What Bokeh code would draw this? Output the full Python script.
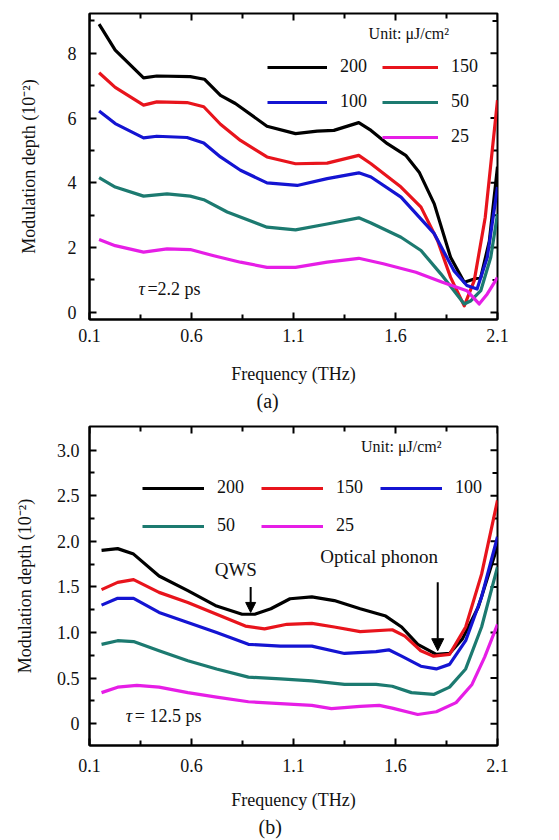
import math
from bokeh.plotting import figure
from bokeh.models import (Range1d, FixedTicker, Legend, LegendItem, Title,
                          Label, Arrow, NormalHead, NumeralTickFormatter)
from bokeh.layouts import column
from bokeh.embed import file_html
from bokeh.resources import INLINE

FONT = "Liberation Serif"

# ---------------- data: panel (a), tau = 2.2 ps ----------------
a_x200 = [0.147, 0.226, 0.365, 0.43, 0.594, 0.663, 0.742, 0.815, 0.97, 1.11, 1.216, 1.298, 1.42, 1.48, 1.56, 1.65, 1.716, 1.79, 1.87, 1.937, 1.986, 2.018, 2.06, 2.1]
a_y200 = [8.9, 8.1, 7.24, 7.3, 7.28, 7.2, 6.7, 6.45, 5.75, 5.52, 5.6, 5.62, 5.86, 5.62, 5.21, 4.85, 4.33, 3.35, 1.70, 0.93, 1.03, 1.08, 2.2, 4.5]
a_x150 = [0.147, 0.226, 0.365, 0.43, 0.578, 0.66, 0.742, 0.84, 0.97, 1.11, 1.265, 1.42, 1.48, 1.627, 1.725, 1.806, 1.87, 1.937, 1.986, 2.04, 2.1]
a_y150 = [7.4, 6.95, 6.4, 6.5, 6.48, 6.35, 5.81, 5.31, 4.8, 4.59, 4.61, 4.85, 4.59, 3.87, 3.25, 2.22, 1.08, 0.2, 0.98, 2.94, 6.55]
a_x100 = [0.147, 0.226, 0.365, 0.43, 0.578, 0.66, 0.742, 0.84, 0.97, 1.118, 1.265, 1.42, 1.48, 1.627, 1.79, 1.886, 1.95, 2.0, 2.05, 2.1]
a_y100 = [6.22, 5.83, 5.39, 5.44, 5.4, 5.23, 4.8, 4.39, 4.0, 3.92, 4.13, 4.31, 4.18, 3.56, 2.43, 1.29, 0.83, 0.72, 1.7, 3.87]
a_x50 = [0.147, 0.226, 0.365, 0.48, 0.594, 0.66, 0.775, 0.97, 1.11, 1.265, 1.42, 1.48, 1.627, 1.725, 1.822, 1.937, 1.97, 2.018, 2.067, 2.1]
a_y50 = [4.16, 3.87, 3.59, 3.66, 3.59, 3.48, 3.1, 2.63, 2.55, 2.73, 2.92, 2.76, 2.32, 1.91, 1.19, 0.26, 0.36, 0.67, 1.70, 3.04]
a_x25 = [0.147, 0.226, 0.365, 0.48, 0.594, 0.709, 0.84, 0.97, 1.11, 1.265, 1.42, 1.54, 1.70, 1.83, 1.95, 2.01, 2.05, 2.1]
a_y25 = [2.25, 2.06, 1.86, 1.96, 1.94, 1.75, 1.55, 1.39, 1.39, 1.55, 1.67, 1.50, 1.24, 0.93, 0.67, 0.26, 0.57, 1.08]

# ---------------- data: panel (b), tau = 12.5 ps ----------------
b_x200 = [0.159, 0.238, 0.316, 0.441, 0.582, 0.723, 0.848, 0.91, 0.989, 1.083, 1.19, 1.30, 1.427, 1.552, 1.63, 1.709, 1.80, 1.865, 1.928, 2.006, 2.1]
b_y200 = [1.90, 1.92, 1.86, 1.62, 1.46, 1.29, 1.20, 1.20, 1.26, 1.37, 1.39, 1.35, 1.26, 1.18, 1.06, 0.87, 0.76, 0.77, 0.93, 1.28, 1.95]
b_x150 = [0.159, 0.238, 0.316, 0.441, 0.582, 0.723, 0.864, 0.958, 1.068, 1.19, 1.30, 1.427, 1.584, 1.646, 1.724, 1.787, 1.865, 1.944, 2.022, 2.1]
b_y150 = [1.47, 1.55, 1.58, 1.44, 1.33, 1.20, 1.07, 1.04, 1.09, 1.10, 1.06, 1.01, 1.03, 0.96, 0.80, 0.74, 0.76, 1.06, 1.64, 2.45]
b_x100 = [0.159, 0.238, 0.316, 0.441, 0.582, 0.723, 0.879, 1.036, 1.19, 1.35, 1.505, 1.567, 1.63, 1.724, 1.80, 1.865, 1.944, 2.022, 2.1]
b_y100 = [1.30, 1.375, 1.375, 1.22, 1.11, 1.0, 0.87, 0.85, 0.85, 0.77, 0.79, 0.81, 0.74, 0.63, 0.60, 0.65, 0.91, 1.39, 2.05]
b_x50 = [0.159, 0.238, 0.316, 0.441, 0.582, 0.723, 0.879, 1.036, 1.19, 1.35, 1.505, 1.584, 1.678, 1.787, 1.865, 1.944, 2.022, 2.1]
b_y50 = [0.87, 0.91, 0.90, 0.80, 0.69, 0.60, 0.51, 0.49, 0.47, 0.43, 0.43, 0.41, 0.34, 0.32, 0.40, 0.60, 1.06, 1.72]
b_x25 = [0.159, 0.238, 0.332, 0.441, 0.582, 0.723, 0.879, 1.036, 1.19, 1.286, 1.427, 1.52, 1.584, 1.709, 1.80, 1.897, 1.975, 2.037, 2.1]
b_y25 = [0.34, 0.40, 0.42, 0.40, 0.34, 0.29, 0.24, 0.22, 0.20, 0.165, 0.19, 0.20, 0.17, 0.10, 0.13, 0.23, 0.43, 0.73, 1.09]

labels = ["200", "150", "100", "50", "25"]
colors = ["#000000", "#e8141c", "#1414d2", "#1c7a70", "#e61ee6"]

x_ticks = [0.1, 0.6, 1.1, 1.6, 2.1]
x_minor = [0.35, 0.85, 1.35, 1.85]
a_y_ticks = [0, 2, 4, 6, 8]
a_y_minor = [1, 3, 5, 7, 9]
b_y_ticks = [0, 0.5, 1.0, 1.5, 2.0, 2.5, 3.0]
b_y_minor = [0.25, 0.75, 1.25, 1.75, 2.25, 2.75]

TXT = "#111111"


def style_axis(ax):
    ax.axis_line_color = "black"
    ax.axis_line_width = 2
    ax.major_tick_in = 7
    ax.major_tick_out = 0
    ax.minor_tick_in = 5
    ax.minor_tick_out = 0
    ax.major_tick_line_width = 2
    ax.minor_tick_line_width = 2
    ax.major_tick_line_color = "black"
    ax.minor_tick_line_color = "black"
    ax.major_label_text_font = FONT
    ax.major_label_text_font_size = "18px"
    ax.major_label_text_color = TXT
    ax.axis_label_text_font = FONT
    ax.axis_label_text_font_size = "18px"
    ax.axis_label_text_font_style = "normal"
    ax.axis_label_text_color = TXT


def make_panel(height, yr, yt, ym, yfmt, borders, series):
    p = figure(width=559, height=height, x_range=Range1d(0.1, 2.1),
               y_range=Range1d(*yr), output_backend="svg", toolbar_location=None,
               min_border_left=borders[0], min_border_right=borders[1],
               min_border_top=borders[2], min_border_bottom=borders[3])
    p.grid.visible = False
    p.outline_line_color = "black"
    p.outline_line_width = 2
    p.background_fill_color = "white"
    p.border_fill_color = "white"

    p.xaxis.ticker = FixedTicker(ticks=x_ticks, minor_ticks=x_minor)
    p.yaxis.ticker = FixedTicker(ticks=yt, minor_ticks=ym)
    p.xaxis.formatter = NumeralTickFormatter(format="0.0")
    p.yaxis.formatter = NumeralTickFormatter(format=yfmt)
    p.yaxis.major_label_overrides = {0: "0"}
    p.xaxis.axis_label = "Frequency (THz)"
    p.yaxis.axis_label = "Modulation depth (10\u207b\u00b2)"
    style_axis(p.xaxis[0])
    style_axis(p.yaxis[0])

    # mirrored inward ticks on the top and right edges of the frame
    p.scatter(x_ticks, [yr[1]] * len(x_ticks), marker="dash", size=14, angle=math.pi / 2,
              line_color="black", line_width=2)
    p.scatter(x_minor, [yr[1]] * len(x_minor), marker="dash", size=10, angle=math.pi / 2,
              line_color="black", line_width=2)
    p.scatter([2.1] * len(yt), yt, marker="dash", size=14, line_color="black", line_width=2)
    p.scatter([2.1] * len(ym), ym, marker="dash", size=10, line_color="black", line_width=2)

    renderers = []
    for (xs, ys), c in zip(series, colors):
        r = p.line(xs, ys, line_color=c, line_width=3.2, line_join="round")
        renderers.append(r)
    return p, renderers


def legend(items, ncols, loc, gw, spacing, orientation="horizontal"):
    return Legend(items=items, orientation=orientation, ncols=ncols, location=loc,
                  glyph_width=gw, glyph_height=20, label_standoff=13, spacing=spacing,
                  padding=0, margin=0, border_line_alpha=0, background_fill_alpha=0,
                  label_text_font=FONT, label_text_font_size="18px", label_height=20,
                  label_text_color=TXT)


def text(p, x, y, s, size, align="left", style="normal", x_offset=0):
    p.add_layout(Label(x=x, y=y, text=s, text_font=FONT, text_font_size=size,
                       text_font_style=style, x_offset=x_offset,
                       text_align=align, text_baseline="middle", text_color=TXT))


def panel_tag(p, s, offset):
    p.add_layout(Title(text=s, align="left", offset=offset, standoff=3, text_font=FONT,
                       text_font_size="20px", text_font_style="normal", text_color=TXT),
                 "below")


# ---------------- panel (a) ----------------
pa, ra = make_panel(417, (-0.22, 9.23), a_y_ticks, a_y_minor, "0", (89, 62, 13, 98),
                    [(a_x200, a_y200), (a_x150, a_y150), (a_x100, a_y100),
                     (a_x50, a_y50), (a_x25, a_y25)])
pa.xaxis[0].major_label_standoff = 9
pa.xaxis[0].axis_label_standoff = 19
pa.yaxis[0].major_label_standoff = 13
pa.yaxis[0].axis_label_standoff = 26

# legend column 1: 200, 100 ; legend column 2: 150, 50, 25
pa.add_layout(legend([LegendItem(label=labels[i], renderers=[ra[i]]) for i in (0, 2)],
                     1, (178, 207), 60, 14, "vertical"), "center")
pa.add_layout(legend([LegendItem(label=labels[i], renderers=[ra[i]]) for i in (1, 3, 4)],
                     1, (293, 172), 56, 14, "vertical"), "center")

text(pa, 1.468, 8.61, "Unit: \u03bcJ/cm\u00b2", "16px")
text(pa, 0.34, 0.71, "\u03c4", "18px", style="italic")
text(pa, 0.34, 0.71, "=2.2 ps", "18px", x_offset=9)
panel_tag(pa, "(a)", 167)

# ---------------- panel (b) ----------------
pb, rb = make_panel(423, (-0.24, 3.26), b_y_ticks, b_y_minor, "0.0", (87, 48, 9, 95),
                    [(b_x200, b_y200), (b_x150, b_y150), (b_x100, b_y100),
                     (b_x50, b_y50), (b_x25, b_y25)])
pb.xaxis[0].major_label_standoff = 13
pb.xaxis[0].axis_label_standoff = 15
pb.yaxis[0].major_label_standoff = 10
pb.yaxis[0].axis_label_standoff = 19

pb.add_layout(legend([LegendItem(label=l, renderers=[r]) for l, r in zip(labels, rb)],
                     3, (53, 209), 62, 17), "center")

text(pb, 1.431, 3.04, "Unit: \u03bcJ/cm\u00b2", "16px")
text(pb, 0.278, 0.088, "\u03c4", "18px", style="italic")
text(pb, 0.278, 0.088, "= 12.5 ps", "18px", x_offset=9)
text(pb, 0.817, 1.69, "QWS", "19px", align="center")
text(pb, 1.52, 1.835, "Optical phonon", "19px", align="center")
pb.add_layout(Arrow(x_start=0.89, y_start=1.50, x_end=0.89, y_end=1.22, line_width=2,
                    line_color="black",
                    end=NormalHead(size=10, fill_color="black", line_color="black")))
pb.add_layout(Arrow(x_start=1.807, y_start=1.55, x_end=1.807, y_end=0.80, line_width=2,
                    line_color="black",
                    end=NormalHead(size=12, fill_color="black", line_color="black")))
panel_tag(pb, "(b)", 169)

layout = column(pa, pb)
open("out.html", "w").write(file_html(layout, INLINE))
